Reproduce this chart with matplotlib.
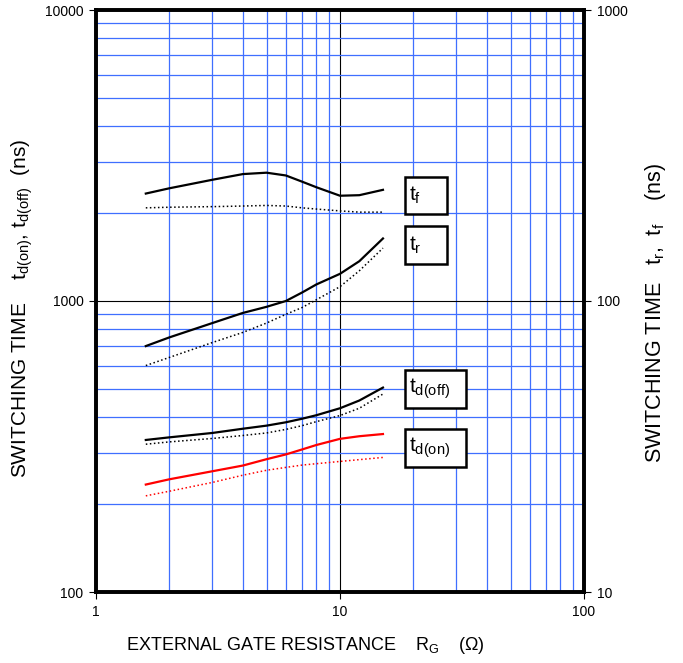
import matplotlib
matplotlib.use("Agg")
import matplotlib.pyplot as plt
from matplotlib.ticker import LogLocator, NullFormatter, FixedLocator, FixedFormatter
from matplotlib.patches import Rectangle

plt.rcParams['font.family'] = ['Liberation Sans', 'DejaVu Sans']
plt.rcParams['mathtext.fontset'] = 'custom'
plt.rcParams['mathtext.rm'] = 'Liberation Sans'
plt.rcParams['mathtext.it'] = 'Liberation Sans'

# gate resistance (ohm)
rg = [1.6, 2, 3, 4, 5, 6, 7, 8, 10, 12, 15]

# right axis (tr, tf) in ns
tf_solid = [234, 244, 261, 273, 276, 270, 257, 246, 230, 231, 241]
tf_dot = [209, 210, 211, 212, 213, 212, 209, 207, 204, 202, 202]
tr_solid = [70, 75, 84, 91, 95.5, 100, 107, 114, 124, 137, 164]
tr_dot = [60, 64, 72, 78, 84, 90, 95, 101, 112, 127, 152]

# left axis (td(on), td(off)) in ns
tdoff_solid = [333, 340, 352, 364, 373, 383, 394, 405, 428, 455, 504]
tdoff_dot = [322, 328, 337, 345, 352, 362, 373, 385, 404, 428, 479]
tdon_solid = [234, 244, 260, 272, 286, 297, 309, 320, 336, 343, 349]
tdon_dot = [214, 222, 238, 252, 262, 268, 273, 276, 281, 285, 290]

fig = plt.figure(figsize=(6.83, 6.63), dpi=100)
ax = fig.add_axes([96 / 683, 1 - 592 / 663, 488 / 683, 582 / 663])
ax.set_xscale('log')
ax.set_yscale('log')
ax.set_xlim(1, 100)
ax.set_ylim(100, 10000)

blue = '#3f6fff'
ax.xaxis.set_minor_locator(LogLocator(base=10, subs=range(2, 10)))
ax.yaxis.set_minor_locator(LogLocator(base=10, subs=range(2, 10)))
ax.xaxis.set_minor_formatter(NullFormatter())
ax.yaxis.set_minor_formatter(NullFormatter())
ax.grid(True, which='minor', color=blue, lw=0.9)
ax.grid(True, which='major', color='black', lw=0.8)
ax.set_axisbelow(True)

ax.xaxis.set_major_locator(FixedLocator([1, 10, 100]))
ax.xaxis.set_major_formatter(FixedFormatter(['1', '10', '100']))
ax.yaxis.set_major_locator(FixedLocator([100, 1000, 10000]))
ax.yaxis.set_major_formatter(FixedFormatter(['100', '1000', '10000']))
ax.tick_params(which='minor', length=0)
ax.tick_params(which='major', length=5, width=0.8, labelsize=10, direction='out', pad=4)

ax.plot(rg, tdoff_solid, color='black', lw=1.6)
ax.plot(rg, tdoff_dot, color='black', lw=1.1, ls=':')
ax.plot(rg, tdon_solid, color='#ff0000', lw=1.6)
ax.plot(rg, tdon_dot, color='#ff0000', lw=1.1, ls=':')

ax2 = ax.twinx()
ax2.set_yscale('log')
ax2.set_ylim(10, 1000)
ax2.yaxis.set_major_locator(FixedLocator([10, 100, 1000]))
ax2.yaxis.set_major_formatter(FixedFormatter(['10', '100', '1000']))
ax2.yaxis.set_minor_formatter(NullFormatter())
ax2.tick_params(which='minor', length=0)
ax2.tick_params(which='major', length=5, width=0.8, labelsize=10, direction='out', pad=4)

ax2.plot(rg, tf_solid, color='black', lw=1.6)
ax2.plot(rg, tf_dot, color='black', lw=1.1, ls=':')
ax2.plot(rg, tr_solid, color='black', lw=1.6)
ax2.plot(rg, tr_dot, color='black', lw=1.1, ls=':')

for a in (ax, ax2):
    for s in a.spines.values():
        s.set_linewidth(2.6)

# curve label boxes (pixel boxes converted to axes fraction)
def px_box(x0, y0, x1, y1, label):
    fx0 = (x0 - 96) / 488
    fx1 = (x1 - 96) / 488
    fy0 = (592 - y1) / 582
    fy1 = (592 - y0) / 582
    ax2.add_patch(Rectangle((fx0, fy0), fx1 - fx0, fy1 - fy0, transform=ax2.transAxes,
                            fc='white', ec='black', lw=1.8, zorder=5))
    ax2.text(fx0 + 4 / 488, (fy0 + fy1) / 2, label, transform=ax2.transAxes,
             ha='left', va='center', fontsize=15, zorder=6)

px_box(405, 177, 447, 214, r'$\mathregular{t_{f}}$')
px_box(405, 226, 447, 264, r'$\mathregular{t_{r}}$')
px_box(405, 370, 466, 408, r'$\mathregular{t_{d(off)}}$')
px_box(405, 429, 466, 467, r'$\mathregular{t_{d(on)}}$')

fig.text(22 / 683, 1 - 478 / 663,
         'SWITCHING TIME    ' + r'$\mathregular{t_{d(on)}}$, $\mathregular{t_{d(off)}}$' + '  (ns)',
         rotation=90, ha='center', va='bottom', fontsize=15)
fig.text(655 / 683, 1 - 463 / 663,
         'SWITCHING TIME   ' + r'$\mathregular{t_{r}}$,  $\mathregular{t_{f}}$' + '    (ns)',
         rotation=90, ha='center', va='bottom', fontsize=15.5)
fig.text(305 / 683, 1 - 645 / 663,
         'EXTERNAL GATE RESISTANCE    ' + r'$\mathregular{R_{G}}$' + '    (' + '\u03a9' + ')',
         ha='center', va='center', fontsize=13)

fig.savefig('out.png', dpi=100)
